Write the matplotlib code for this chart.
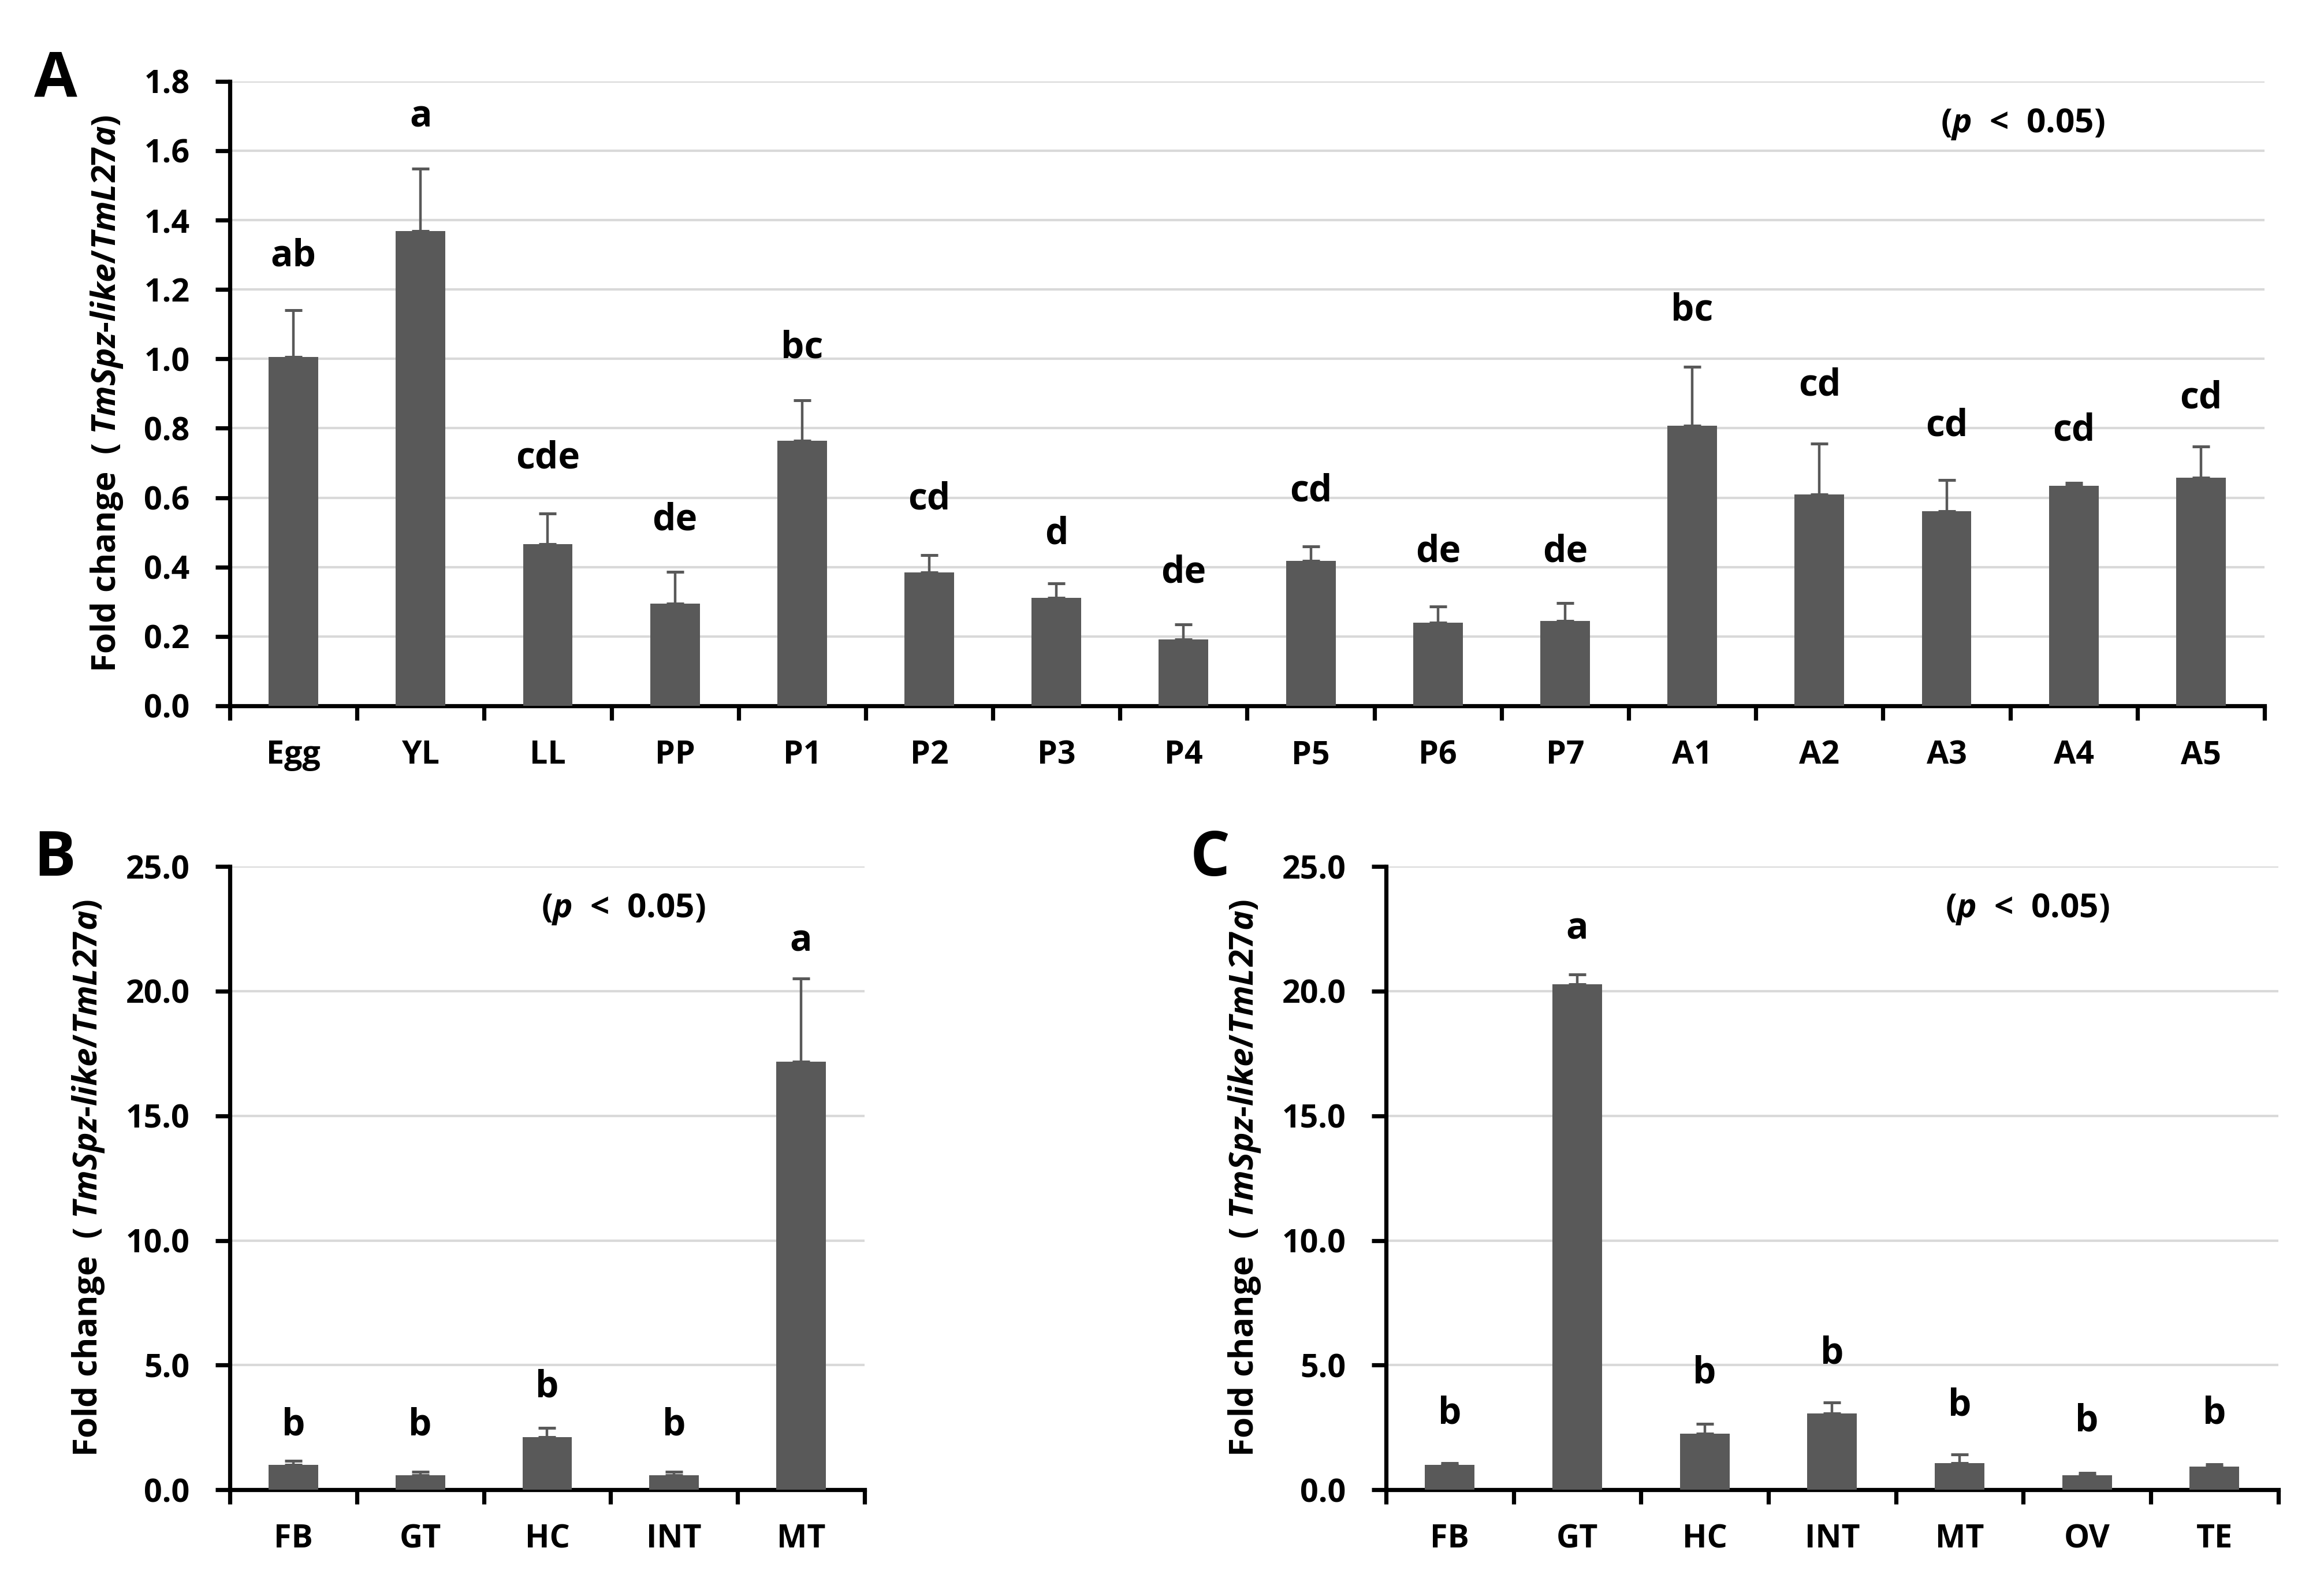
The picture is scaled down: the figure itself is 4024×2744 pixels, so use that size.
import numpy as np
import matplotlib
matplotlib.use('Agg')
from matplotlib import pyplot as plt

plt.rcParams['font.family'] = ['Open Sans', 'DejaVu Sans']
plt.rcParams['font.weight'] = 'bold'
plt.rcParams['mathtext.fontset'] = 'custom'
plt.rcParams['mathtext.it'] = 'Open Sans:italic:bold'
plt.rcParams['mathtext.rm'] = 'Open Sans:bold'

# panel A - developmental stages
stages = ['Egg', 'YL', 'LL', 'PP', 'P1', 'P2', 'P3', 'P4', 'P5', 'P6', 'P7',
          'A1', 'A2', 'A3', 'A4', 'A5']
stage_mean = [1.005, 1.368, 0.466, 0.295, 0.764, 0.384, 0.311, 0.192, 0.418,
              0.240, 0.244, 0.807, 0.610, 0.561, 0.634, 0.658]
stage_err = [0.135, 0.180, 0.088, 0.091, 0.117, 0.051, 0.042, 0.042, 0.042,
             0.046, 0.052, 0.170, 0.146, 0.090, 0.009, 0.089]
stage_sig = ['ab', 'a', 'cde', 'de', 'bc', 'cd', 'd', 'de', 'cd', 'de', 'de',
             'bc', 'cd', 'cd', 'cd', 'cd']
stage_sig_y = [1.295, 1.696, 0.713, 0.534, 1.03, 0.594, 0.494, 0.383, 0.618,
               0.442, 0.442, 1.139, 0.922, 0.805, 0.792, 0.886]

# panel B - larval tissues
tis_b = ['FB', 'GT', 'HC', 'INT', 'MT']
mean_b = [0.99, 0.59, 2.12, 0.59, 17.17]
err_b = [0.18, 0.14, 0.36, 0.14, 3.33]
sig_b = ['b', 'b', 'b', 'b', 'a']
sig_b_y = [2.58, 2.58, 4.1, 2.58, 22.0]

# panel C - adult tissues
tis_c = ['FB', 'GT', 'HC', 'INT', 'MT', 'OV', 'TE']
mean_c = [0.99, 20.27, 2.26, 3.07, 1.07, 0.59, 0.93]
err_c = [0.08, 0.39, 0.39, 0.42, 0.34, 0.08, 0.08]
sig_c = ['b', 'a', 'b', 'b', 'b', 'b', 'b']
sig_c_y = [3.03, 22.48, 4.66, 5.45, 3.37, 2.73, 3.03]

bar_col = '#595959'
ylab = r'Fold change  ( $\mathit{TmSpz}$-$\mathit{like/TmL27a}$)'
ptxt = r'($\mathit{p}$  <  0.05)'


def draw(ax, cats, mean, err, sig, sig_y, ymax, ystep, p_x, p_y):
    x = np.arange(len(cats))
    ax.bar(x, mean, width=0.39, color=bar_col, zorder=3)
    ax.errorbar(x, mean, yerr=[np.zeros(len(cats)), err], fmt='none',
                ecolor=bar_col, elinewidth=1.6, capsize=5.5, capthick=1.8, zorder=3)
    for xi, s, yy in zip(x, sig, sig_y):
        ax.text(xi, yy, s, ha='center', va='center', fontsize=23, fontweight='bold')
    ax.text(p_x, p_y, ptxt, ha='center', va='center', fontsize=21, fontweight='bold')
    ax.set_xlim(-0.5, len(cats) - 0.5)
    ax.set_ylim(0, ymax)
    yt = np.arange(0, ymax + ystep / 2, ystep)
    ax.set_yticks(yt)
    ax.set_yticklabels(['%.1f' % v for v in yt])
    ax.set_xticks(x)
    ax.set_xticklabels(cats)
    ax.set_xticks(np.arange(-0.5, len(cats)), minor=True)
    ax.tick_params(axis='x', which='major', length=0, pad=21, labelsize=20)
    ax.tick_params(axis='x', which='minor', length=9, width=2.6, direction='out')
    ax.tick_params(axis='y', length=9, width=2.6, direction='out', labelsize=20, pad=16)
    ax.yaxis.grid(True, color='#d9d9d9', linewidth=1.5, zorder=0)
    ax.set_axisbelow(True)
    for sp in ['top', 'right']:
        ax.spines[sp].set_visible(False)
    ax.spines['left'].set_linewidth(2.6)
    ax.spines['bottom'].set_linewidth(2.6)
    ax.set_ylabel(ylab, fontsize=21, fontweight='bold', labelpad=12)


fig = plt.figure(figsize=(20.12, 13.72), dpi=200)
axA = fig.add_axes([0.0989, 0.5547, 0.8755, 0.3940])
axB = fig.add_axes([0.0989, 0.0601, 0.2731, 0.3932])
axC = fig.add_axes([0.5964, 0.0601, 0.3839, 0.3932])

draw(axA, stages, stage_mean, stage_err, stage_sig, stage_sig_y, 1.8, 0.2, 13.6, 1.677)
draw(axB, tis_b, mean_b, err_b, sig_b, sig_b_y, 25, 5, 2.6, 23.3)
draw(axC, tis_c, mean_c, err_c, sig_c, sig_c_y, 25, 5, 4.53, 23.3)

fig.text(0.0239, 0.9497, 'A', fontsize=39, fontweight='bold', ha='center', va='center')
fig.text(0.0236, 0.4577, 'B', fontsize=39, fontweight='bold', ha='center', va='center')
fig.text(0.5206, 0.4577, 'C', fontsize=39, fontweight='bold', ha='center', va='center')

fig.savefig('out.png', dpi=200, facecolor='white')
